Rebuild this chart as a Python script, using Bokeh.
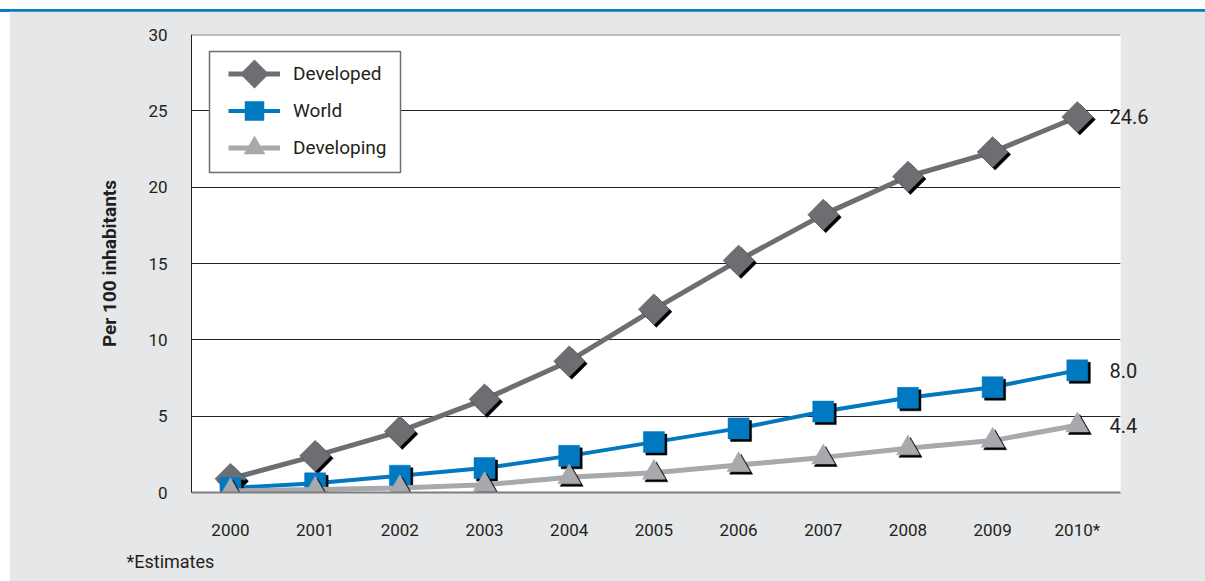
import math
from bokeh.plotting import figure
from bokeh.layouts import column
from bokeh.models import (Range1d, FixedTicker, Legend, LegendItem, BoxAnnotation, Span,
                          ColumnDataSource, LinearAxis, NumeralTickFormatter, Title, Div)
from bokeh.embed import file_html
from bokeh.resources import INLINE

years = ["2000", "2001", "2002", "2003", "2004", "2005", "2006", "2007", "2008", "2009", "2010*"]
developed = [0.9, 2.4, 4.0, 6.1, 8.6, 12.0, 15.2, 18.2, 20.7, 22.3, 24.6]
world = [0.3, 0.6, 1.1, 1.6, 2.4, 3.3, 4.2, 5.3, 6.2, 6.9, 8.0]
developing = [0.1, 0.2, 0.3, 0.5, 1.0, 1.3, 1.8, 2.3, 2.9, 3.4, 4.4]
series_names = ["Developed", "World", "Developing"]
y_ticks = [0, 5, 10, 15, 20, 25, 30]
footnote = "*Estimates"
y_title = "Per 100 inhabitants"

FONT = "Roboto"
TXT = "#231f20"
GRAY_BG = "#e6e7e8"
C_DEV = "#6d6e71"
C_WORLD = "#0079c1"
C_DEVING = "#a7a9ac"

W, H = 1196, 570
ML, MR, MT, MB = 182, 85, 23, 89
frame_w = W - ML - MR
frame_h = H - MT - MB

xs = list(range(len(years)))
x0, x1 = -0.46, len(years) - 1 + 0.51
y0, y1 = 0, 30

p = figure(width=W, height=H, output_backend="svg", toolbar_location=None,
           x_range=Range1d(x0, x1), y_range=Range1d(y0, y1),
           min_border_left=ML, min_border_right=MR, min_border_top=MT, min_border_bottom=MB,
           margin=(0, 0, 0, 9))
p.border_fill_color = GRAY_BG
p.background_fill_color = "white"
p.outline_line_color = None

# pixel ranges for legend keys
p.extra_x_ranges = {"px": Range1d(0, frame_w)}
p.extra_y_ranges = {"px": Range1d(0, frame_h)}

# axes
p.xaxis.ticker = FixedTicker(ticks=xs)
p.xaxis.major_label_overrides = {i: y for i, y in enumerate(years)}
p.xaxis.major_tick_line_color = None
p.xaxis.minor_tick_line_color = None
p.xaxis.axis_line_color = "#7f7f7f"
p.xaxis.axis_line_width = 2
p.xaxis.major_label_standoff = 21
p.xaxis.major_label_text_font = FONT
p.xaxis.major_label_text_font_size = "17px"
p.xaxis.major_label_text_color = TXT

p.yaxis.ticker = FixedTicker(ticks=y_ticks)
p.yaxis.major_tick_line_color = None
p.yaxis.minor_tick_line_color = None
p.yaxis.axis_line_color = TXT
p.yaxis.axis_line_width = 1
p.yaxis.major_label_standoff = 18
p.yaxis.major_label_text_font = FONT
p.yaxis.major_label_text_font_size = "17px"
p.yaxis.major_label_text_color = TXT
p.yaxis.axis_label = y_title
p.yaxis.axis_label_text_font = FONT
p.yaxis.axis_label_text_font_style = "bold"
p.yaxis.axis_label_text_font_size = "19px"
p.yaxis.axis_label_text_color = TXT
p.yaxis.axis_label_standoff = 24

p.xgrid.grid_line_color = None
p.ygrid.ticker = FixedTicker(ticks=y_ticks[1:-1])
p.ygrid.grid_line_color = TXT
p.ygrid.grid_line_width = 1

p.add_layout(Span(location=y_ticks[-1], dimension="width", line_color="#7f7f7f", line_width=2))

# end-value labels as a right axis
end_vals = [developed[-1], world[-1], developing[-1]]
rax = LinearAxis(ticker=FixedTicker(ticks=end_vals), formatter=NumeralTickFormatter(format="0.0"),
                 axis_line_color=None, major_tick_line_color=None, minor_tick_line_color=None,
                 major_label_standoff=-17, major_label_text_font=FONT,
                 major_label_text_font_size="20px", major_label_text_color=TXT)
p.add_layout(rax, "right")

# shadow offsets (px -> data)
sh = 2.5
dx = sh * (x1 - x0) / frame_w
dy = sh * (y1 - y0) / frame_h

specs = [
    (developed, C_DEV, 5, "square", 22, math.pi / 4, 20),
    (world, C_WORLD, 4, "square", 21, 0.0, 19),
    (developing, C_DEVING, 5, "triangle", 23, 0.0, 21),
]

LEG_X, LEG_Y = 37, 326
GLYPH_W, ITEM_H = 52, 37
leg_top = LEG_Y + ITEM_H * len(series_names)

# legend frame (white box behind the legend entries)
p.add_layout(BoxAnnotation(left=18, right=209, bottom=320, top=441,
                           left_units="screen", right_units="screen",
                           top_units="screen", bottom_units="screen",
                           fill_color="white", fill_alpha=1,
                           line_color=C_DEV, line_width=1.5, line_alpha=1))

items = []
for i, (name, (vals, col, lw, mk, sz, ang, lsz)) in enumerate(zip(series_names, specs)):
    src = ColumnDataSource(dict(x=xs, y=vals,
                                xs_=[v + dx for v in xs], ys_=[v - dy for v in vals]))
    lr = p.line("x", "y", source=src, line_color=col, line_width=lw)
    p.scatter("xs_", "ys_", source=src, marker=mk, size=sz, angle=ang,
              fill_color="black", line_color="black", line_width=0.5)
    p.scatter("x", "y", source=src, marker=mk, size=sz, angle=ang,
              fill_color=col, line_color=col, line_width=0.5)
    items.append(LegendItem(label=name, renderers=[lr]))
    # legend key marker, placed in frame pixel space
    p.scatter(x=[LEG_X + GLYPH_W / 2], y=[leg_top - (i + 0.5) * ITEM_H],
              x_range_name="px", y_range_name="px", marker=mk, size=lsz, angle=ang,
              fill_color=col, line_color=col, line_width=0.5, level="overlay")

legend = Legend(items=items, location=(LEG_X, LEG_Y), orientation="vertical",
                glyph_width=GLYPH_W, glyph_height=ITEM_H, label_height=20, spacing=0,
                padding=0, margin=0, label_standoff=13,
                label_text_font=FONT, label_text_font_size="19px", label_text_color=TXT,
                border_line_alpha=0, background_fill_alpha=0)
p.add_layout(legend, "center")

p.add_layout(Title(text=footnote, align="left", offset=-65, standoff=13,
                   text_font=FONT, text_font_size="18px", text_font_style="normal",
                   text_color=TXT), "below")

bar = Div(text='<div style="width:1205px;height:3px;background:#0a7bc1;"></div>',
          width=1205, height=11, margin=0)
layout = column(bar, p, spacing=0, margin=0)

open("out.html", "w").write(file_html(layout, INLINE))
